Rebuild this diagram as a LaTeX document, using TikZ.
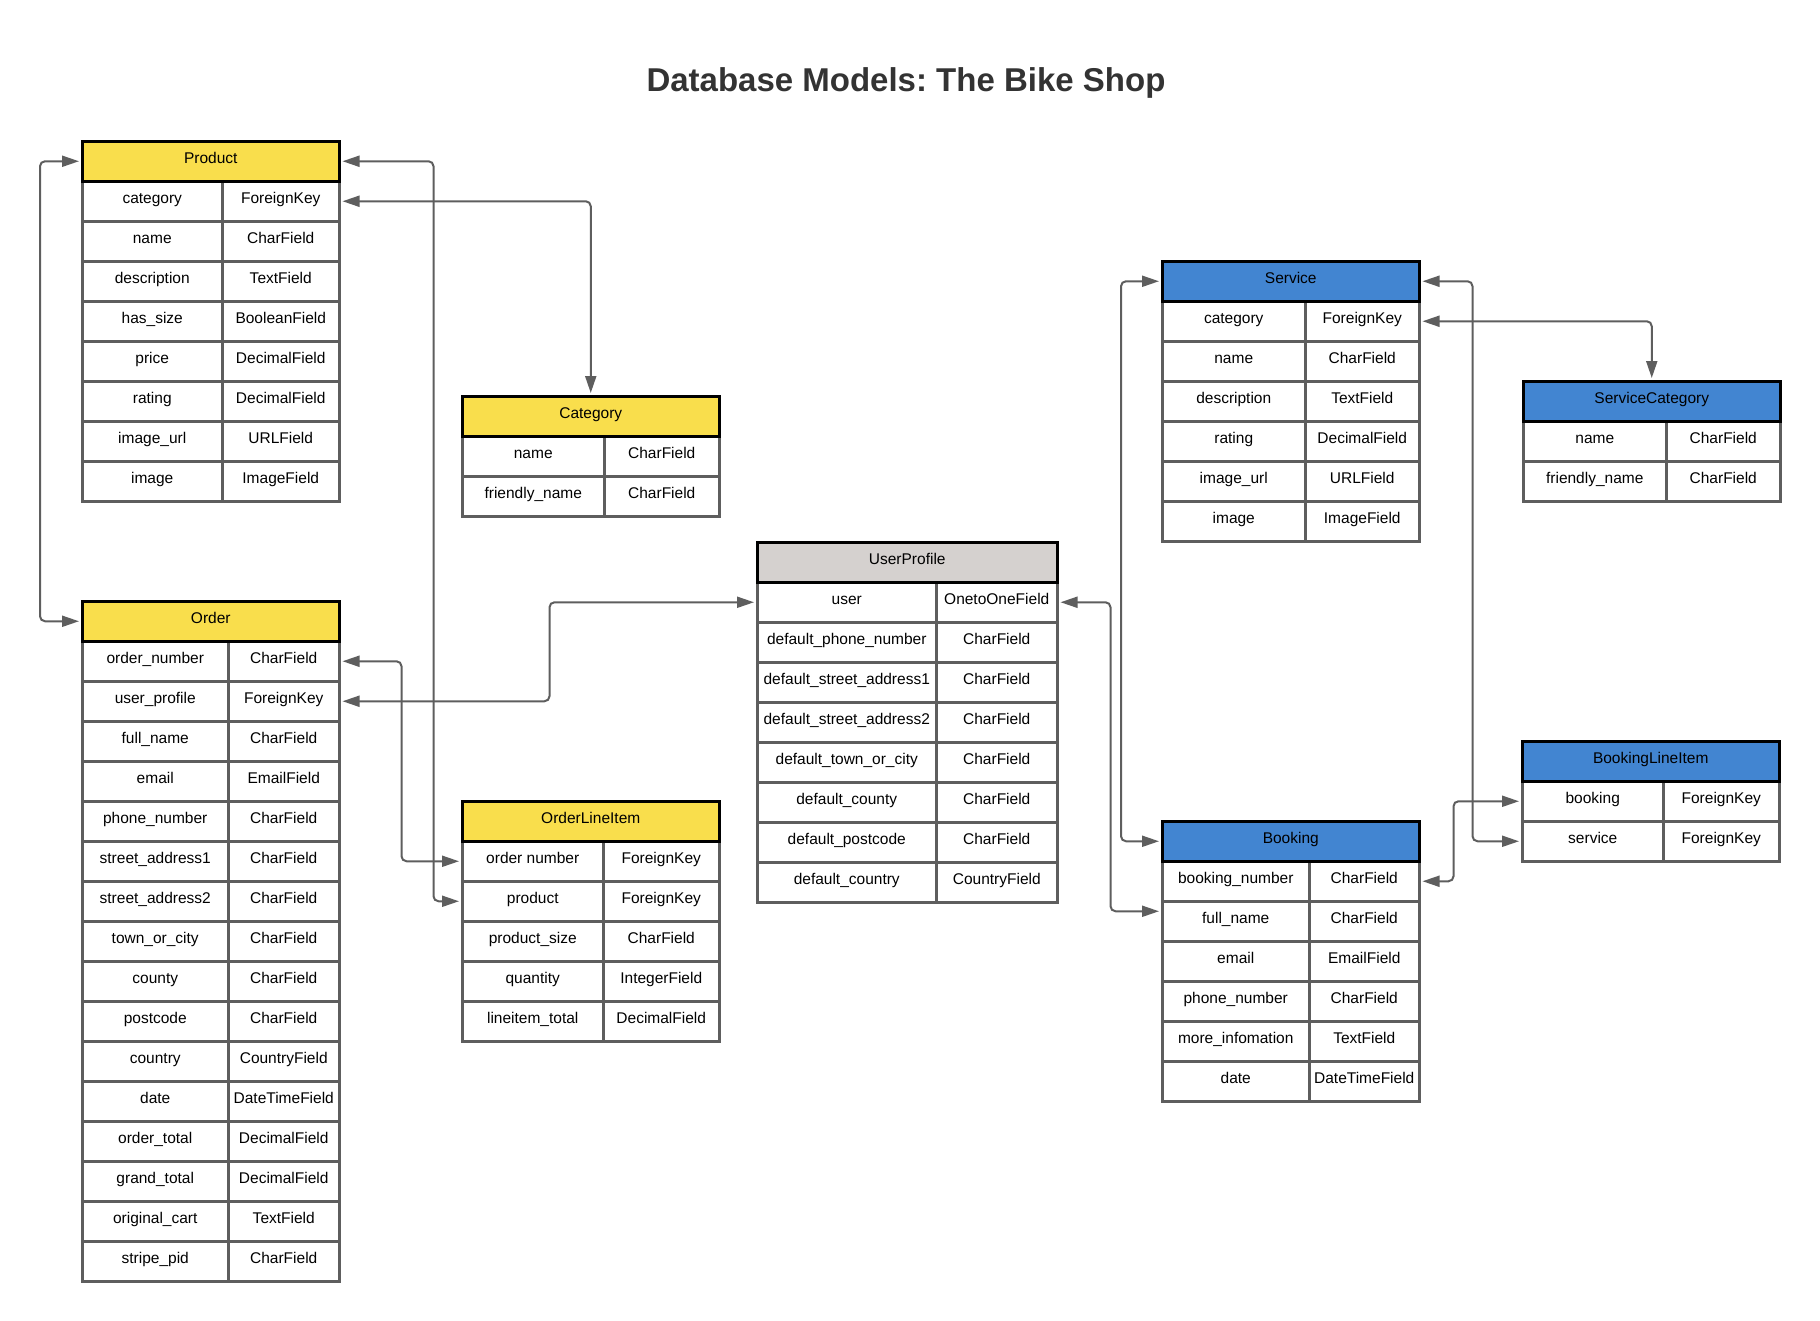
\documentclass[tikz,border=0pt]{standalone}
\usepackage{fontspec}
\setmainfont{Liberation Sans}
\usetikzlibrary{arrows.meta}
\definecolor{modelyellow}{HTML}{F9DE4C}
\definecolor{modelblue}{HTML}{4285D1}
\definecolor{modelgrey}{HTML}{D5D1CF}
\definecolor{gridgrey}{HTML}{5E5E5E}
\definecolor{titlegrey}{HTML}{333333}
\frenchspacing

\begin{document}
\begin{tikzpicture}[x=1pt, y=-1pt]
    \tikzstyle{cell}=[draw=gridgrey, line width=2.5pt, rectangle, minimum height=40pt, inner sep=2pt, text height=7.5pt, text depth=3.5pt, anchor=north west, font=\fontsize{15.5}{18}\selectfont]
    \tikzstyle{head}=[cell, draw=black]
    \tikzstyle{link}=[draw=gridgrey, line width=2pt, rounded corners=5pt, >={Triangle[length=17pt,width=11pt]}, <->, shorten <=2pt, shorten >=2pt]
    \useasboundingbox (0,0) rectangle (1820,1320);

    \node[font=\fontsize{33}{40}\selectfont\bfseries, text=titlegrey] (title) at (906,83) {Database Models: The Bike Shop};

    % products app
    \foreach \f/\t [count=\i] in {category/ForeignKey, name/CharField, description/TextField, has\_size/BooleanField, price/DecimalField, rating/DecimalField, image\_url/URLField, image/ImageField}
    {
        \node[cell, minimum width=140pt] (prod-f\i) at (81,140+40*\i) {\f};
        \node[cell, minimum width=117pt] (prod-t\i) at (221,140+40*\i) {\t};
    }
    \node[head, fill=modelyellow, minimum width=257pt] (prod) at (81,140) {Product};

    \foreach \f/\t [count=\i] in {name/CharField, friendly\_name/CharField}
    {
        \node[cell, minimum width=142pt] (cat-f\i) at (461,395+40*\i) {\f};
        \node[cell, minimum width=115pt] (cat-t\i) at (603,395+40*\i) {\t};
    }
    \node[head, fill=modelyellow, minimum width=257pt] (cat) at (461,395) {Category};

    % checkout app
    \foreach \f/\t [count=\i] in {order\_number/CharField, user\_profile/ForeignKey, full\_name/CharField, email/EmailField, phone\_number/CharField, street\_address1/CharField, street\_address2/CharField, town\_or\_city/CharField, county/CharField, postcode/CharField, country/CountryField, date/DateTimeField, order\_total/DecimalField, grand\_total/DecimalField, original\_cart/TextField, stripe\_pid/CharField}
    {
        \node[cell, minimum width=146pt] (order-f\i) at (81,600+40*\i) {\f};
        \node[cell, minimum width=111pt] (order-t\i) at (227,600+40*\i) {\t};
    }
    \node[head, fill=modelyellow, minimum width=257pt] (order) at (81,600) {Order};

    \foreach \f/\t [count=\i] in {order number/ForeignKey, product/ForeignKey, product\_size/CharField, quantity/IntegerField, lineitem\_total/DecimalField}
    {
        \node[cell, minimum width=141pt] (oli-f\i) at (461,800+40*\i) {\f};
        \node[cell, minimum width=116pt] (oli-t\i) at (602,800+40*\i) {\t};
    }
    \node[head, fill=modelyellow, minimum width=257pt] (oli) at (461,800) {OrderLineItem};

    % profiles app
    \foreach \f/\t [count=\i] in {user/OnetoOneField, default\_phone\_number/CharField, default\_street\_address1/CharField, default\_street\_address2/CharField, default\_town\_or\_city/CharField, default\_county/CharField, default\_postcode/CharField, default\_country/CountryField}
    {
        \node[cell, minimum width=179pt] (up-f\i) at (756,541+40*\i) {\f};
        \node[cell, minimum width=121pt] (up-t\i) at (935,541+40*\i) {\t};
    }
    \node[head, fill=modelgrey, minimum width=300pt] (up) at (756,541) {UserProfile};

    % services app
    \foreach \f/\t [count=\i] in {category/ForeignKey, name/CharField, description/TextField, rating/DecimalField, image\_url/URLField, image/ImageField}
    {
        \node[cell, minimum width=143pt] (serv-f\i) at (1161,260+40*\i) {\f};
        \node[cell, minimum width=114pt] (serv-t\i) at (1304,260+40*\i) {\t};
    }
    \node[head, fill=modelblue, minimum width=257pt] (serv) at (1161,260) {Service};

    \foreach \f/\t [count=\i] in {name/CharField, friendly\_name/CharField}
    {
        \node[cell, minimum width=143pt] (scat-f\i) at (1522,380+40*\i) {\f};
        \node[cell, minimum width=114pt] (scat-t\i) at (1665,380+40*\i) {\t};
    }
    \node[head, fill=modelblue, minimum width=257pt] (scat) at (1522,380) {ServiceCategory};

    \foreach \f/\t [count=\i] in {booking/ForeignKey, service/ForeignKey}
    {
        \node[cell, minimum width=141pt] (bli-f\i) at (1521,740+40*\i) {\f};
        \node[cell, minimum width=116pt] (bli-t\i) at (1662,740+40*\i) {\t};
    }
    \node[head, fill=modelblue, minimum width=257pt] (bli) at (1521,740) {BookingLineItem};

    \foreach \f/\t [count=\i] in {booking\_number/CharField, full\_name/CharField, email/EmailField, phone\_number/CharField, more\_infomation/TextField, date/DateTimeField}
    {
        \node[cell, minimum width=147pt] (bk-f\i) at (1161,820+40*\i) {\f};
        \node[cell, minimum width=110pt] (bk-t\i) at (1308,820+40*\i) {\t};
    }
    \node[head, fill=modelblue, minimum width=257pt] (bk) at (1161,820) {Booking};

    % relations
    \draw[link] (prod.west) -- ++(-41,0) |- (order.west);
    \draw[link] (prod.east) -- ++(93,0) |- (oli-f2.west);
    \draw[link] (prod-t1.east) -| (cat.north);
    \draw[link] (order-t1.east) -- ++(61,0) |- (oli-f1.west);
    \draw[link] (order-t2.east) -- ++(209,0) |- (up-f1.west);
    \draw[link] (up-t1.east) -- ++(52,0) |- ([yshift=10pt]bk-f2.west);
    \draw[link] (serv.west) -- ++(-40,0) |- (bk.west);
    \draw[link] (serv.east) -- ++(52,0) |- (bli-f2.west);
    \draw[link] (serv-t1.east) -| (scat.north);
    \draw[link] (bk-t1.east) -- ++(33,0) |- (bli-f1.west);
\end{tikzpicture}
\end{document}
